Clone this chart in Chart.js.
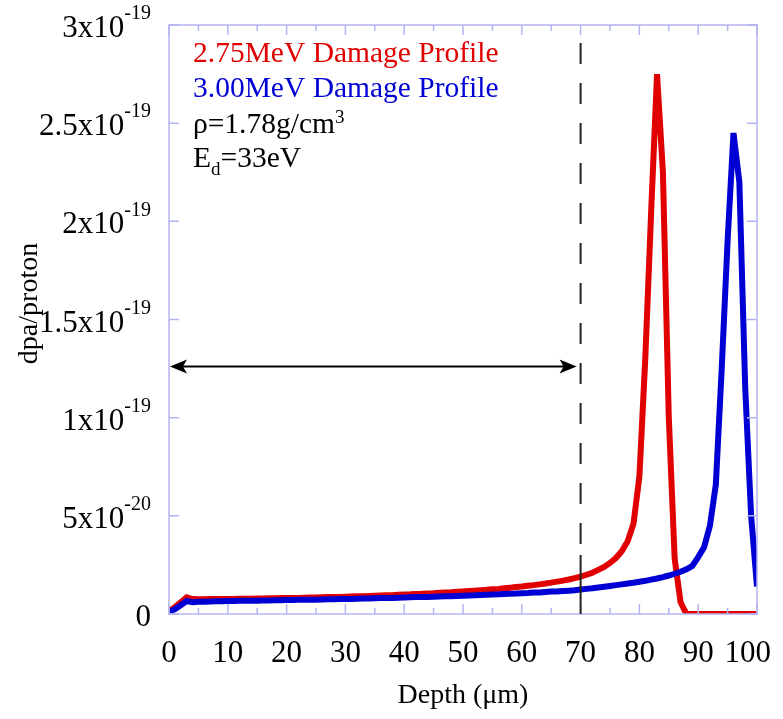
<!DOCTYPE html>
<html>
<head>
<meta charset="utf-8">
<script src="https://cdn.jsdelivr.net/npm/chart.js@4.4.0/dist/chart.umd.min.js"></script>
<style>
  html, body { margin: 0; padding: 0; background: #fff; }
  #wrap { width: 783px; height: 719px; }
</style>
</head>
<body>
<div id="wrap"><canvas id="damageChart"></canvas></div>
<script>
// depth in um, damage in units of 1e-19 dpa/proton
const depth = [0,1,2,3,4,5,6,7,8,9,10,11,12,13,14,15,16,17,18,19,20,21,22,23,24,25,26,27,28,29,30,31,32,33,34,35,36,37,38,39,40,41,42,43,44,45,46,47,48,49,50,51,52,53,54,55,56,57,58,59,60,61,62,63,64,65,66,67,68,69,70,71,72,73,74,75,76,77,78,79,80,81,82,83,84,85,86,87,88,89,90,91,92,93,94,95,96,97,98,99,100];
const dmg275 = [0.015,0.035,0.06,0.085,0.076,0.075,0.075,0.076,0.076,0.077,0.077,0.077,0.078,0.078,0.078,0.079,0.079,0.08,0.08,0.081,0.081,0.082,0.082,0.083,0.084,0.084,0.085,0.086,0.086,0.087,0.088,0.089,0.09,0.091,0.092,0.093,0.094,0.095,0.096,0.098,0.099,0.1,0.102,0.103,0.105,0.106,0.108,0.11,0.111,0.113,0.115,0.117,0.119,0.121,0.123,0.126,0.128,0.131,0.134,0.137,0.14,0.144,0.147,0.151,0.155,0.16,0.165,0.17,0.176,0.183,0.19,0.2,0.21,0.225,0.24,0.26,0.285,0.32,0.37,0.46,0.7,1.3,2.05,2.75,2.25,1.0,0.28,0.06,0,0,0,0,0,0,0,0,0,0,0,0,0];
const dmg300 = [0.01,0.025,0.045,0.066,0.06,0.062,0.063,0.064,0.065,0.065,0.066,0.066,0.067,0.067,0.068,0.068,0.069,0.069,0.07,0.07,0.071,0.071,0.072,0.072,0.073,0.073,0.074,0.075,0.075,0.076,0.077,0.077,0.078,0.079,0.079,0.08,0.081,0.082,0.082,0.083,0.084,0.085,0.086,0.087,0.087,0.088,0.089,0.09,0.091,0.092,0.093,0.094,0.095,0.097,0.098,0.099,0.1,0.102,0.103,0.104,0.106,0.107,0.109,0.11,0.112,0.114,0.115,0.117,0.119,0.121,0.125,0.128,0.131,0.135,0.139,0.143,0.147,0.151,0.155,0.159,0.164,0.169,0.175,0.181,0.188,0.196,0.205,0.215,0.228,0.245,0.29,0.34,0.45,0.66,1.25,1.9,2.45,2.2,1.15,0.5,0.14];

const xTickVals = [0,10,20,30,40,50,60,70,80,90,100];
const yTickVals = [0,0.5,1,1.5,2,2.5,3];
const yTickBase = ['0','5x10','1x10','1.5x10','2x10','2.5x10','3x10'];
const yTickExp = ['','-20','-19','-19','-19','-19','-19'];

const rangeMark = { from: 0, to: 70, y: 1.26 };

const serif = '"Liberation Serif", "Times New Roman", serif';
const axisColor = '#b4b4f2';
const red = '#e00000';
const blue = '#0000d4';

function pairs(xs, ys) {
  return xs.map((x, i) => ({ x: x, y: ys[i] }));
}

function textWithScript(ctx, x, y, parts) {
  // parts: [text, kind] kind = '', 'sup', 'sub'
  parts.forEach(p => {
    let size = 29.5, dy = 0;
    if (p[1] === 'sup') { size = 19; dy = -10; }
    if (p[1] === 'sub') { size = 19; dy = 8; }
    ctx.font = size + 'px ' + serif;
    ctx.fillText(p[0], x, y + dy);
    x += ctx.measureText(p[0]).width;
  });
}

const decorPlugin = {
  id: 'decor',
  afterDraw(chart) {
    const ctx = chart.ctx;
    const xs = chart.scales.x, ys = chart.scales.y;
    const a = chart.chartArea;
    ctx.save();

    // frame
    ctx.strokeStyle = axisColor;
    ctx.lineWidth = 1.5;
    ctx.strokeRect(a.left, a.top, a.right - a.left, a.bottom - a.top);

    // ticks, inward on all four sides
    ctx.beginPath();
    xTickVals.forEach((v, i) => {
      const px = xs.getPixelForValue(v);
      ctx.moveTo(px, a.bottom); ctx.lineTo(px, a.bottom - 10);
      ctx.moveTo(px, a.top); ctx.lineTo(px, a.top + 10);
      if (i < xTickVals.length - 1) {
        const mx = xs.getPixelForValue((v + xTickVals[i + 1]) / 2);
        ctx.moveTo(mx, a.bottom); ctx.lineTo(mx, a.bottom - 6);
        ctx.moveTo(mx, a.top); ctx.lineTo(mx, a.top + 6);
      }
    });
    yTickVals.forEach(v => {
      const py = ys.getPixelForValue(v);
      ctx.moveTo(a.left, py); ctx.lineTo(a.left + 10, py);
      ctx.moveTo(a.right, py); ctx.lineTo(a.right - 10, py);
    });
    ctx.stroke();

    // x tick labels (kept inside the canvas on the right)
    ctx.fillStyle = '#000';
    ctx.textBaseline = 'middle';
    ctx.textAlign = 'left';
    ctx.font = '31px ' + serif;
    xTickVals.forEach(v => {
      const txt = String(v);
      const w = ctx.measureText(txt).width;
      let lx = xs.getPixelForValue(v) - w / 2;
      if (lx + w > 771) lx = 771 - w;
      ctx.fillText(txt, lx, 654);
    });

    // y tick labels with exponent
    yTickVals.forEach((v, i) => {
      const py = ys.getPixelForValue(v) + 4;
      ctx.font = '20px ' + serif;
      const ew = ctx.measureText(yTickExp[i]).width;
      ctx.font = '31px ' + serif;
      const bw = ctx.measureText(yTickBase[i]).width;
      const right = a.left - 18;
      ctx.fillText(yTickBase[i], right - ew - bw, py);
      ctx.font = '20px ' + serif;
      ctx.fillText(yTickExp[i], right - ew, py - 15);
    });

    // axis titles
    ctx.font = '28px ' + serif;
    ctx.textAlign = 'center';
    ctx.fillText('Depth (\u03bcm)', (a.left + a.right) / 2, 696);
    ctx.save();
    ctx.translate(30, (a.top + a.bottom) / 2 - 16);
    ctx.rotate(-Math.PI / 2);
    ctx.fillText('dpa/proton', 0, 0);
    ctx.restore();

    // dashed marker at 70 um
    const dx = xs.getPixelForValue(rangeMark.to);
    ctx.strokeStyle = '#222';
    ctx.lineWidth = 2;
    ctx.setLineDash([21, 19]);
    ctx.lineDashOffset = 22;
    ctx.beginPath();
    ctx.moveTo(dx, a.top); ctx.lineTo(dx, 555);
    ctx.stroke();
    ctx.setLineDash([]);
    ctx.beginPath();
    ctx.moveTo(dx, 555); ctx.lineTo(dx, a.bottom);
    ctx.stroke();

    // double arrow
    const ay = ys.getPixelForValue(rangeMark.y);
    const ax0 = xs.getPixelForValue(rangeMark.from) + 1;
    const ax1 = dx - 4;
    ctx.strokeStyle = '#000';
    ctx.fillStyle = '#000';
    ctx.lineWidth = 2;
    ctx.beginPath();
    ctx.moveTo(ax0 + 10, ay); ctx.lineTo(ax1 - 10, ay);
    ctx.stroke();
    [[ax0, 1], [ax1, -1]].forEach(([tx, dir]) => {
      ctx.beginPath();
      ctx.moveTo(tx, ay);
      ctx.lineTo(tx + dir * 17, ay - 7);
      ctx.lineTo(tx + dir * 13, ay);
      ctx.lineTo(tx + dir * 17, ay + 7);
      ctx.closePath();
      ctx.fill();
    });

    // legend / notes
    ctx.textAlign = 'left';
    ctx.textBaseline = 'alphabetic';
    ctx.fillStyle = red;
    textWithScript(ctx, 193, 62, [['2.75MeV Damage Profile', '']]);
    ctx.fillStyle = blue;
    textWithScript(ctx, 193, 97, [['3.00MeV Damage Profile', '']]);
    ctx.fillStyle = '#000';
    textWithScript(ctx, 193, 133, [['\u03c1=1.78g/cm', ''], ['3', 'sup']]);
    textWithScript(ctx, 193, 167, [['E', ''], ['d', 'sub'], ['=33eV', '']]);

    ctx.restore();
  }
};

new Chart(document.getElementById('damageChart'), {
  type: 'line',
  data: {
    datasets: [
      {
        label: '3.00MeV Damage Profile',
        data: pairs(depth, dmg300),
        borderColor: blue,
        borderWidth: 6,
        pointRadius: 0,
        fill: false,
        tension: 0
      },
      {
        label: '2.75MeV Damage Profile',
        data: pairs(depth, dmg275),
        borderColor: red,
        borderWidth: 6,
        pointRadius: 0,
        fill: false,
        tension: 0
      }
    ]
  },
  options: {
    responsive: true,
    maintainAspectRatio: false,
    animation: false,
    layout: { padding: { top: 25, right: 26, left: 0, bottom: 0 } },
    plugins: {
      legend: { display: false },
      tooltip: { enabled: false }
    },
    scales: {
      x: {
        type: 'linear',
        min: 0,
        max: 100,
        grid: { display: false, drawTicks: false },
        border: { display: false },
        ticks: { display: false, stepSize: 10 },
        afterFit: function (scale) { scale.height = 105; }
      },
      y: {
        min: 0,
        max: 3,
        grid: { display: false, drawTicks: false },
        border: { display: false },
        ticks: { display: false, stepSize: 0.5 },
        afterFit: function (scale) { scale.width = 169; }
      }
    }
  },
  plugins: [decorPlugin]
});
</script>
</body>
</html>
